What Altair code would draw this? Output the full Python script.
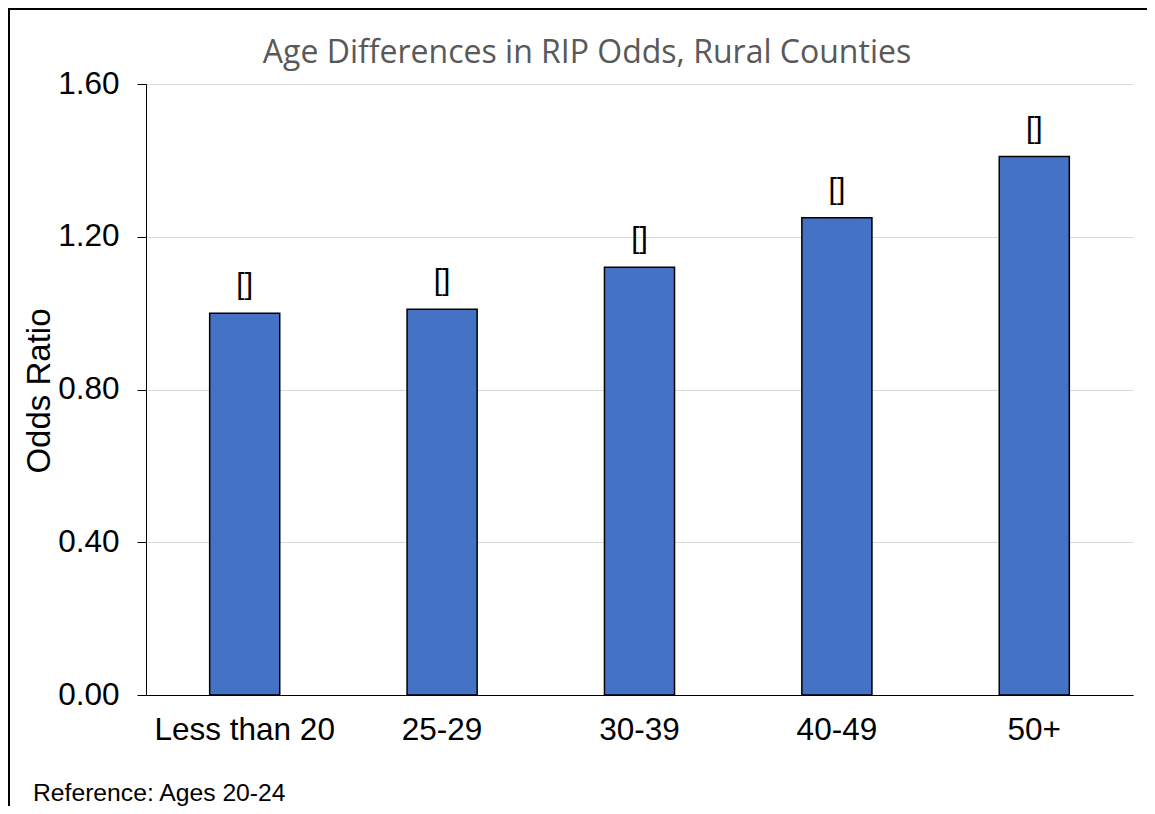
import altair as alt
import pandas as pd

categories = ["Less than 20", "25-29", "30-39", "40-49", "50+"]
odds = [1.00, 1.01, 1.12, 1.25, 1.41]
bar_labels = ["[]", "[]", "[]", "[]", "[]"]
y_ticks = [0.0, 0.4, 0.8, 1.2, 1.6]
title_text = "Age Differences in RIP Odds, Rural Counties"
y_title = "Odds Ratio"
footnote = "Reference: Ages 20-24"

df = pd.DataFrame({"cat": categories, "odds": odds, "lab": bar_labels})

x_enc = alt.X("cat:N", sort=categories,
              scale=alt.Scale(paddingInner=0.645, paddingOuter=0.3225),
              axis=alt.Axis(title=None, labelAngle=0, ticks=False, domainColor="black",
                            domainWidth=1, labelFontSize=31.5, labelFont="Liberation Sans",
                            labelColor="black", labelPadding=19, grid=False,
                            labelLimit=1000, labelOverlap=False))
y_enc = alt.Y("odds:Q", scale=alt.Scale(domain=[0, 1.6], nice=False),
              axis=alt.Axis(title=None, values=y_ticks, format=".2f", tickSize=9,
                            tickColor="black", domainColor="black", gridColor="#D9D9D9",
                            labelFontSize=31.5, labelFont="Liberation Sans", labelColor="black",
                            labelPadding=18))

base = alt.Chart(df)
bars = base.mark_bar(color="#4472C4", stroke="black", strokeWidth=1.5).encode(x=x_enc, y=y_enc)
labels = base.mark_text(font="Liberation Sans", fontSize=30, color="black",
                        baseline="alphabetic", dy=-19).encode(
    x=alt.X("cat:N", sort=categories), y="odds:Q", text="lab:N")

one = pd.DataFrame({"t": [title_text], "y": [y_title], "f": [footnote]})
c1 = alt.Chart(one)
title = c1.mark_text(font="Open Sans", fontSize=32, color="#595959", align="center",
                     baseline="alphabetic").encode(x=alt.value(441), y=alt.value(-21), text="t:N")
ytitle = c1.mark_text(font="Liberation Sans", fontSize=33, color="black", align="center",
                      baseline="middle", angle=270).encode(x=alt.value(-106), y=alt.value(307), text="y:N")
foot = c1.mark_text(font="Liberation Sans", fontSize=24.7, color="black", align="left",
                    baseline="alphabetic").encode(x=alt.value(-113), y=alt.value(717), text="f:N")
border_left = c1.mark_rule(color="black", strokeWidth=2).encode(
    x=alt.value(-137), y=alt.value(-75), y2=alt.value(800))
border_top = c1.mark_rule(color="black", strokeWidth=2).encode(
    x=alt.value(-138), x2=alt.value(1100), y=alt.value(-75))

chart = alt.layer(bars, labels, title, ytitle, foot, border_left, border_top).properties(
    width=987, height=611,
    padding={"left": 138, "top": 76, "right": 14, "bottom": 111},
    autosize=alt.AutoSizeParams(type="none"),
).configure_view(stroke=None)

chart.save("out.html", embed_options={"renderer": "svg", "actions": False})
